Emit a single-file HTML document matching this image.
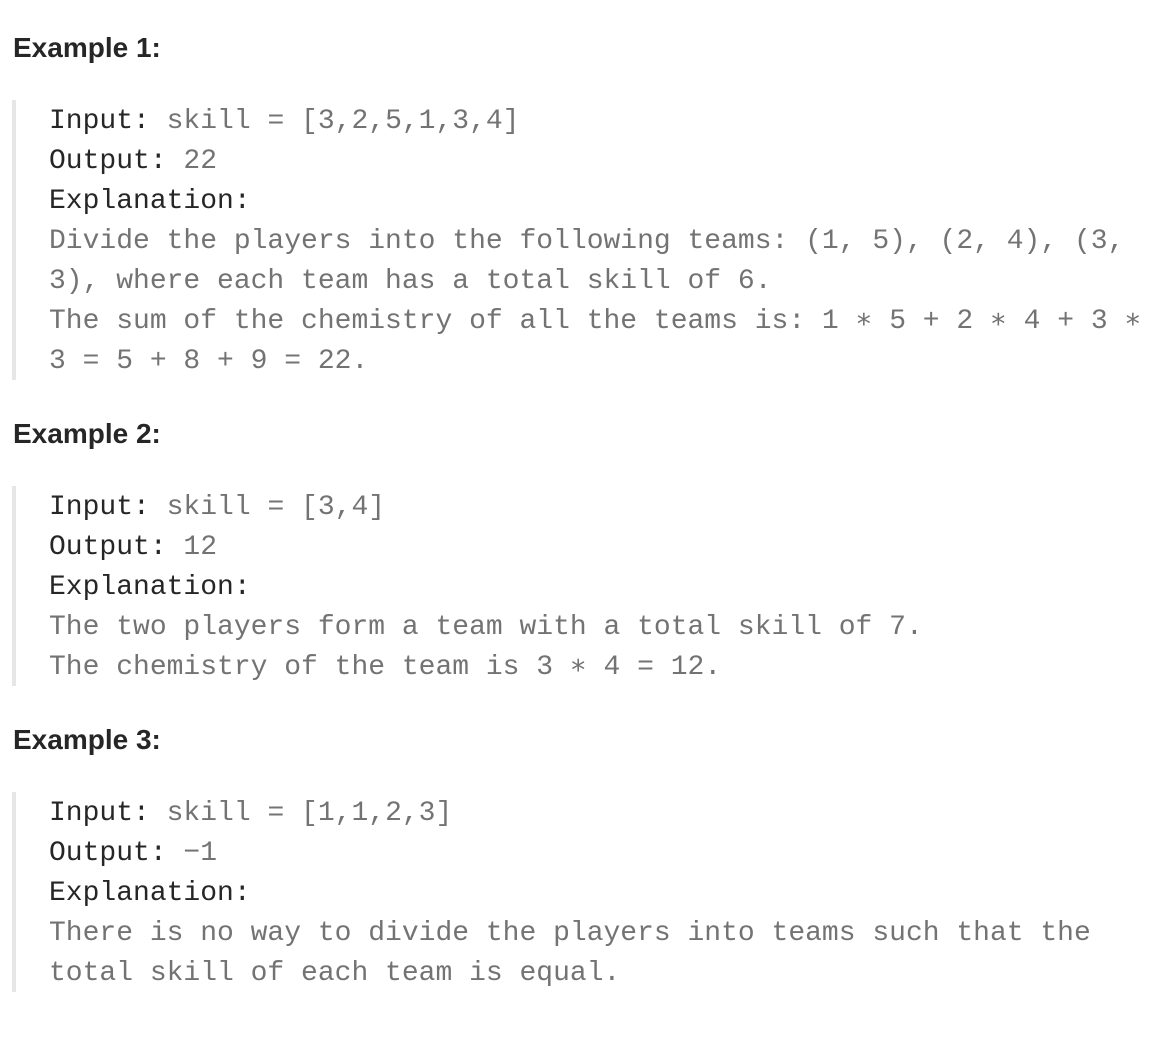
<!DOCTYPE html>
<html><head><meta charset="utf-8"><style>
body{margin:0;width:1158px;height:1048px;background:#fff;position:relative;overflow:hidden}
.h{position:absolute;left:13px;font:bold 28px/40px "Liberation Sans",sans-serif;color:#262626;margin:0}
.b{position:absolute;left:12px;width:4px;background:#e6e6e6}
.l{position:absolute;left:49px;font:28px/40px "Liberation Mono",monospace;color:#737373;white-space:pre}
.l b{font-weight:normal;color:#262626}
</style></head><body>
<div class="h" style="top:28px">Example 1:</div>
<div class="b" style="top:100px;height:280px"></div>
<div class="l" style="top:102px"><b>Input:</b> skill = [3,2,5,1,3,4]</div>
<div class="l" style="top:142px"><b>Output:</b> 22</div>
<div class="l" style="top:182px"><b>Explanation:</b></div>
<div class="l" style="top:222px">Divide the players into the following teams: (1, 5), (2, 4), (3,</div>
<div class="l" style="top:262px">3), where each team has a total skill of 6.</div>
<div class="l" style="top:302px">The sum of the chemistry of all the teams is: 1 ∗ 5 + 2 ∗ 4 + 3 ∗</div>
<div class="l" style="top:342px">3 = 5 + 8 + 9 = 22.</div>

<div class="h" style="top:414px">Example 2:</div>
<div class="b" style="top:486px;height:200px"></div>
<div class="l" style="top:488px"><b>Input:</b> skill = [3,4]</div>
<div class="l" style="top:528px"><b>Output:</b> 12</div>
<div class="l" style="top:568px"><b>Explanation:</b></div>
<div class="l" style="top:608px">The two players form a team with a total skill of 7.</div>
<div class="l" style="top:648px">The chemistry of the team is 3 ∗ 4 = 12.</div>

<div class="h" style="top:720px">Example 3:</div>
<div class="b" style="top:792px;height:200px"></div>
<div class="l" style="top:794px"><b>Input:</b> skill = [1,1,2,3]</div>
<div class="l" style="top:834px"><b>Output:</b> −1</div>
<div class="l" style="top:874px"><b>Explanation:</b></div>
<div class="l" style="top:914px">There is no way to divide the players into teams such that the</div>
<div class="l" style="top:954px">total skill of each team is equal.</div>
</body></html>
